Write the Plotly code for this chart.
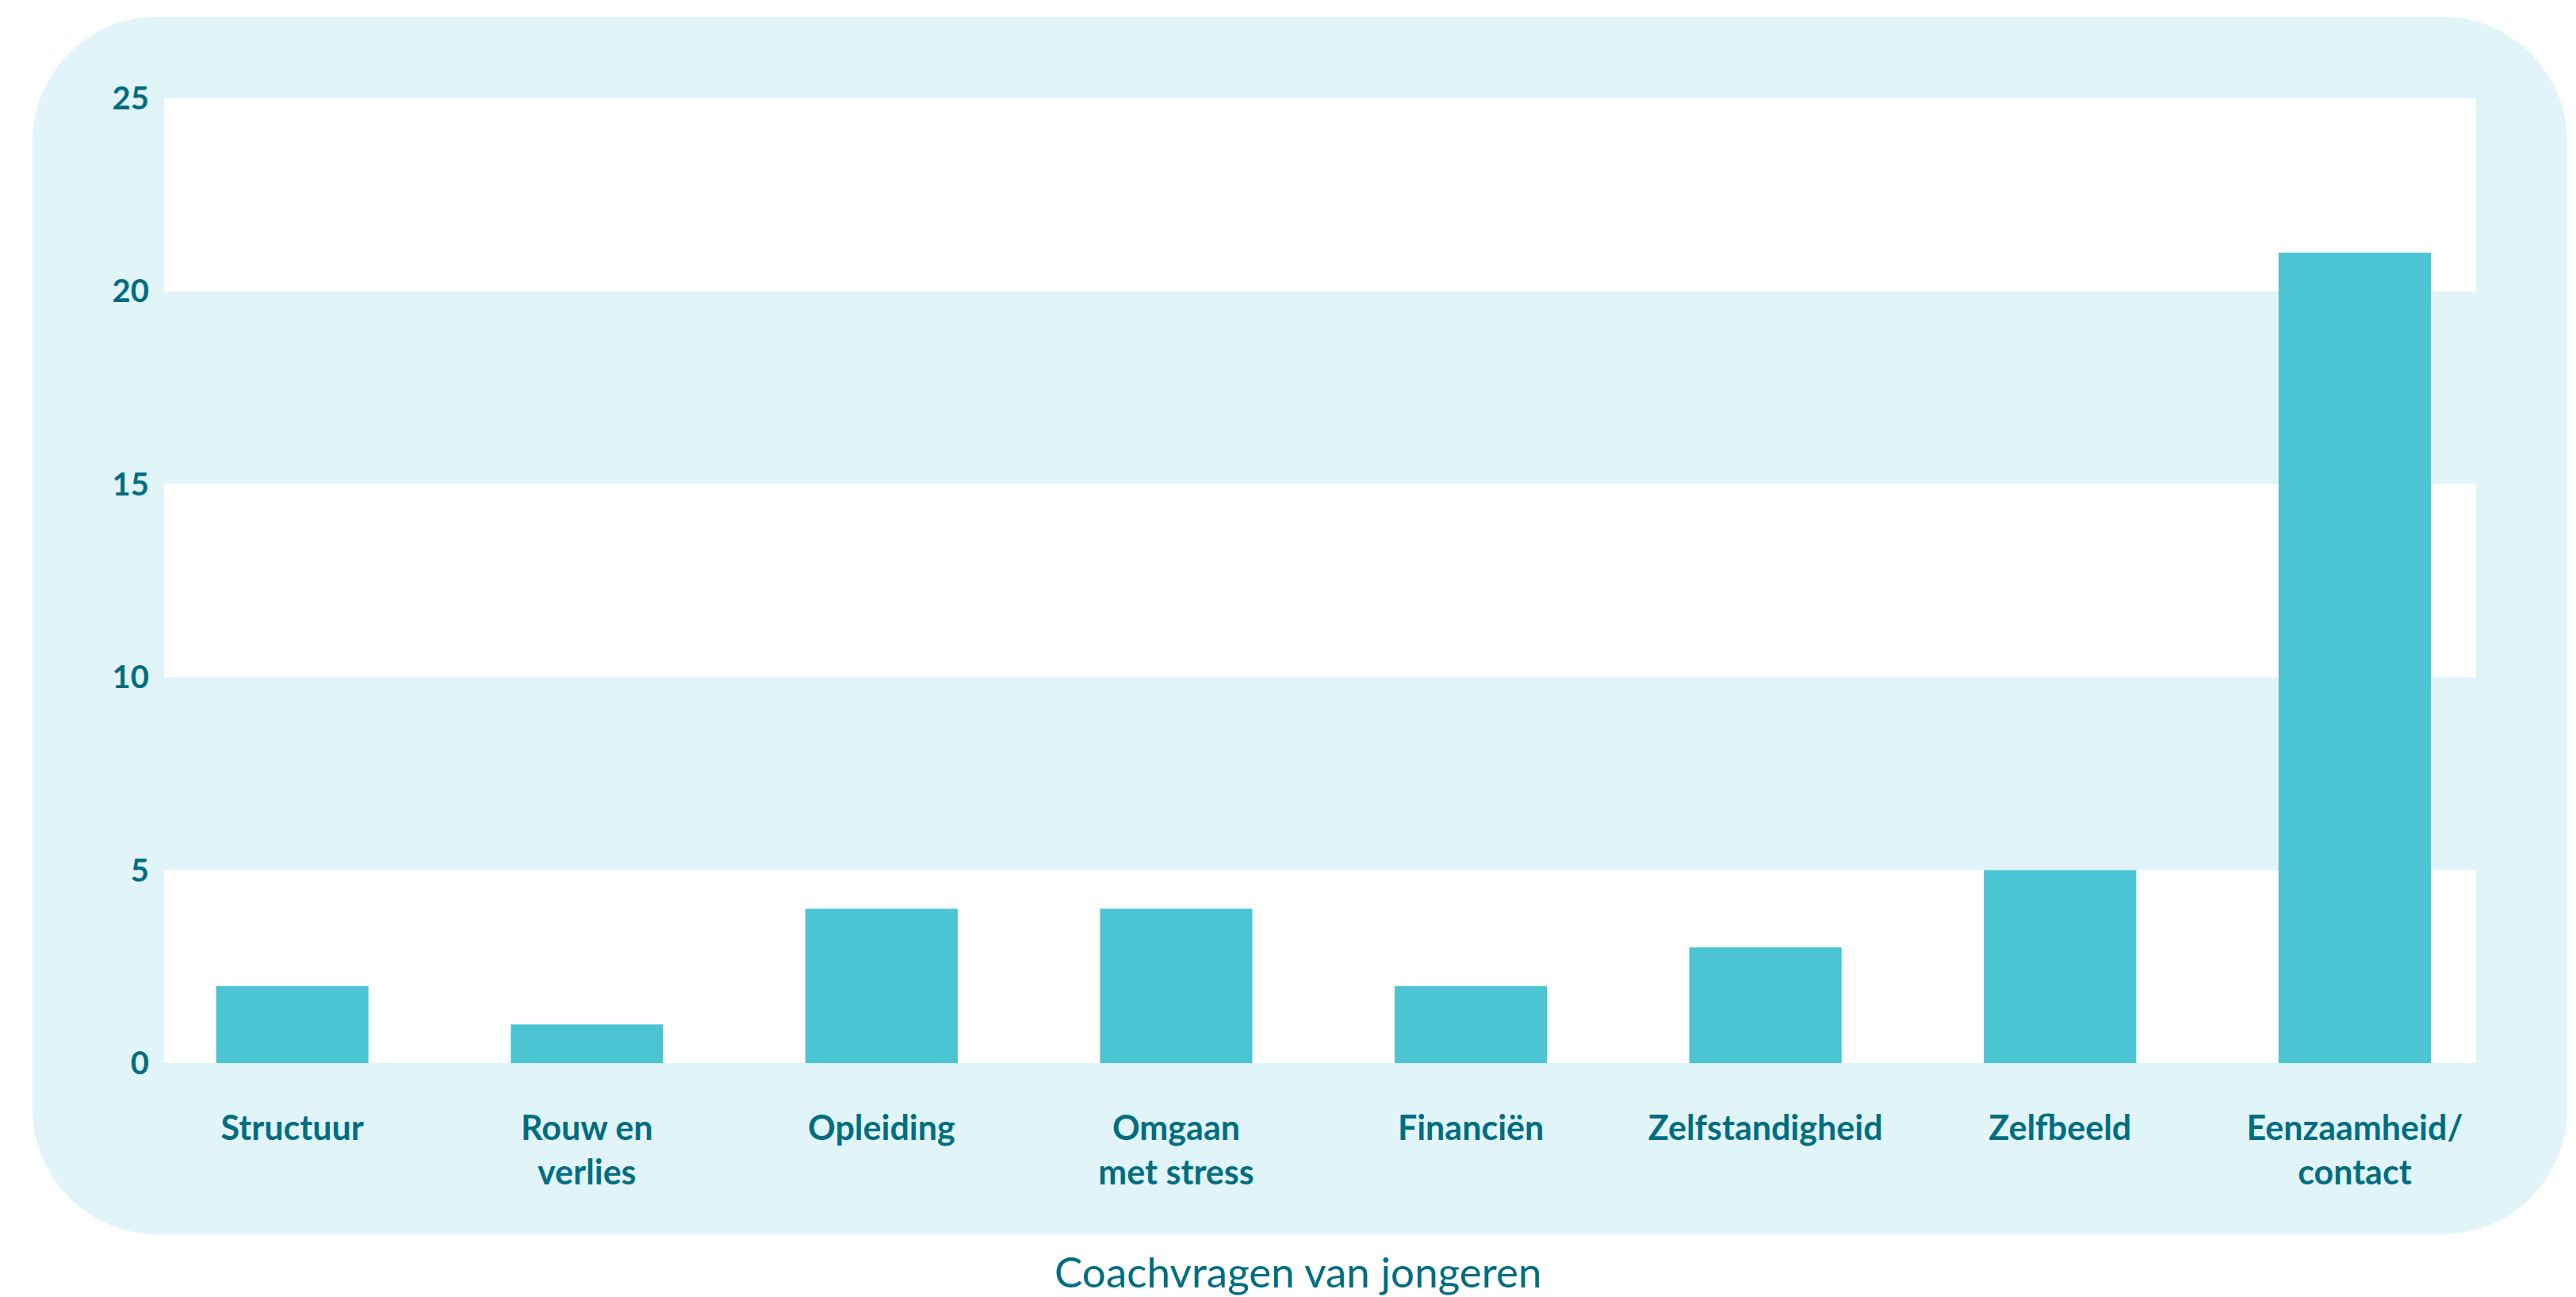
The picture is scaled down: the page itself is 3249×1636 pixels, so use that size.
import plotly.graph_objects as go

categories = ["Structuur", "Rouw en<br>verlies", "Opleiding", "Omgaan<br>met stress",
              "Financiën", "Zelfstandigheid", "Zelfbeeld", "Eenzaamheid/<br>contact"]
values = [2, 1, 4, 4, 2, 3, 5, 21]
y_ticks = [0, 5, 10, 15, 20, 25]
x_title = "Coachvragen van jongeren"

W, H = 3249, 1636
ML, MR, MT, MB = 207, 126, 124, 295
PW, PH = W - ML - MR, H - MT - MB

TEXT = "#006E80"
BAR = "#4BC4D3"
BAND = "#E1F5F9"

def px2paper(x, y):
    return (x - ML) / PW, (H - MB - y) / PH

# rounded background box (pixel geometry converted to paper coords)
x0, y0, x1, y1, r = 41, 21, 3238, 1557, 158
k = r * (1 - 0.5523)
def P(x, y):
    px, py = px2paper(x, y)
    return f"{px:.5f},{py:.5f}"
path = (f"M {P(x0 + r, y0)} L {P(x1 - r, y0)} C {P(x1 - k, y0)} {P(x1, y0 + k)} {P(x1, y0 + r)} "
        f"L {P(x1, y1 - r)} C {P(x1, y1 - k)} {P(x1 - k, y1)} {P(x1 - r, y1)} "
        f"L {P(x0 + r, y1)} C {P(x0 + k, y1)} {P(x0, y1 - k)} {P(x0, y1 - r)} "
        f"L {P(x0, y0 + r)} C {P(x0, y0 + k)} {P(x0 + k, y0)} {P(x0 + r, y0)} Z")

shapes = [
    dict(type="path", path=path, xref="paper", yref="paper", fillcolor=BAND,
         line=dict(width=0), layer="below"),
    dict(type="rect", xref="paper", yref="paper", x0=0, x1=1, y0=0, y1=1,
         fillcolor="white", line=dict(width=0), layer="below"),
]
for lo in y_ticks[1::2][:2]:
    shapes.append(dict(type="rect", xref="paper", yref="y", x0=0, x1=1, y0=lo, y1=lo + 5,
                       fillcolor=BAND, line=dict(width=0), layer="below"))

fig = go.Figure(go.Bar(x=list(range(len(categories))), y=values, marker_color=BAR,
                       marker_line_width=0, width=0.517, hoverinfo="skip"))

tx, ty = px2paper(1637, 1603)
fig.update_layout(
    width=W, height=H,
    margin=dict(l=ML, r=MR, t=MT, b=MB),
    paper_bgcolor="white", plot_bgcolor="rgba(0,0,0,0)",
    showlegend=False,
    shapes=shapes,
    font=dict(family="Lato", color=TEXT),
    annotations=[dict(text=x_title, xref="paper", yref="paper", x=tx, y=ty,
                      showarrow=False, font=dict(family="Lato", size=53, color=TEXT),
                      xanchor="center", yanchor="middle")],
)
fig.update_xaxes(range=[-0.435, 7.412], tickvals=list(range(len(categories))), ticktext=categories,
                 showgrid=False, zeroline=False, showline=False,
                 ticks="outside", ticklen=44, tickcolor="rgba(0,0,0,0)",
                 tickfont=dict(family="Lato", size=43, color=TEXT, weight="bold"))
fig.update_yaxes(range=[0, 25], tickvals=y_ticks, showgrid=False, zeroline=False, showline=False,
                 ticks="outside", ticklen=10, tickcolor="rgba(0,0,0,0)",
                 tickfont=dict(family="Lato", size=40, color=TEXT, weight="bold"))

fig.write_html("out.html", config={"displayModeBar": False},
               post_script="document.body.style.margin='0';document.body.style.overflow='hidden';")
